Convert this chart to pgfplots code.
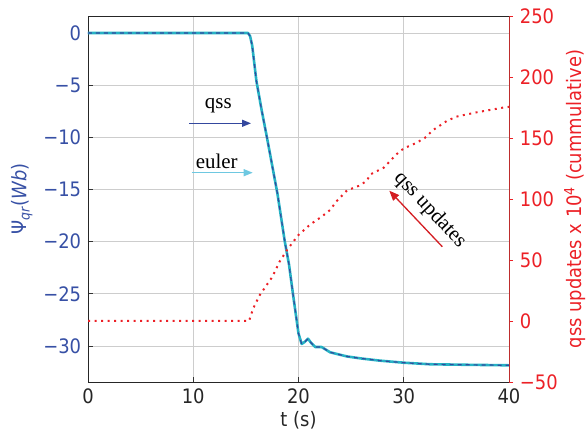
\documentclass[border=0pt]{standalone}
\usepackage{fontspec}
\setmainfont{DejaVu Sans}[FakeStretch=0.9]
\newfontfamily\tnr{Liberation Serif}
\usepackage{pgfplots}
\pgfplotsset{compat=1.18}
\usetikzlibrary{arrows.meta}
\definecolor{qssblue}{RGB}{52,72,158}
\definecolor{eulercyan}{RGB}{38,178,196}
\definecolor{arrcyan}{RGB}{110,200,225}
\definecolor{ured}{RGB}{236,32,38}
\definecolor{axred}{RGB}{190,45,45}
\definecolor{lblue}{RGB}{55,80,165}
\definecolor{gridgray}{RGB}{205,205,205}
\begin{document}
\fontsize{20}{24}\selectfont
\begin{tikzpicture}
\begin{axis}[
  at={(0,0)}, anchor=south west,
  scale only axis, width=421bp, height=366bp,
  xmin=0, xmax=40, ymin=-33.45, ymax=1.63,
  xtick={0,10,20,30,40},
  xticklabels={0,10,20,30,40},
  ytick={-30,-25,-20,-15,-10,-5,0},
  yticklabels={−30,−25,−20,−15,−10,−5,0},
  grid=major, grid style={gridgray, line width=0.8bp},
  axis line style={black!85, line width=0.9bp},
  tick align=inside, major tick length=5bp,
  xtick pos=bottom, ytick pos=left,
  tick style={black!80, line width=0.8bp},
  tick label style={font=\fontsize{20}{24}\selectfont},
  yticklabel style={text=lblue},
  xticklabel style={text=black!85},
  xlabel={t (s)},
  xlabel style={at={(axis description cs:0.5,-0.104)}, anchor=center, text=black!85, font=\fontsize{20}{24}\selectfont},
  ylabel={Ψ\textsubscript{\textit{qr}}(\textit{Wb})},
  ylabel style={at={(axis description cs:-0.157,0.5)}, anchor=center, rotate=0, text=lblue, font=\fontsize{20}{24}\selectfont},
]
\addplot[eulercyan, line width=2.6bp, line join=round] coordinates {
(0,0) (15.2,0) (15.4,-0.3) (15.6,-1.2) (16,-4.6) (16.5,-7.4) (17,-10) (17.5,-12.7) (18,-15.4) (18.7,-20) (19.1,-22.2) (19.5,-25.2) (20,-28.8) (20.3,-29.8) (20.6,-29.6) (20.9,-29.3) (21.2,-29.7) (21.6,-30.1) (22.2,-30.1) (23,-30.6) (24.6,-31.0) (26,-31.2) (27.7,-31.4) (30,-31.6) (32.5,-31.75) (36,-31.8) (40,-31.85)
};
\addplot[qssblue, line width=1.2bp, dash pattern=on 4bp off 4bp] coordinates {
(0,0) (15.2,0) (15.4,-0.3) (15.6,-1.2) (16,-4.6) (16.5,-7.4) (17,-10) (17.5,-12.7) (18,-15.4) (18.7,-20) (19.1,-22.2) (19.5,-25.2) (20,-28.8) (20.3,-29.8) (20.6,-29.6) (20.9,-29.3) (21.2,-29.7) (21.6,-30.1) (22.2,-30.1) (23,-30.6) (24.6,-31.0) (26,-31.2) (27.7,-31.4) (30,-31.6) (32.5,-31.75) (36,-31.8) (40,-31.85)
};
\end{axis}
\begin{axis}[
  at={(0,0)}, anchor=south west,
  scale only axis, width=421bp, height=366bp,
  xmin=0, xmax=40, ymin=-50, ymax=250,
  axis y line*=right, axis x line=none,
  ytick={-50,0,50,100,150,200,250},
  yticklabels={−50,0,50,100,150,200,250},
  y axis line style={axred, line width=1bp},
  tick align=outside, major tick length=4bp,
  ytick style={ured, line width=0.8bp},
  tick label style={font=\fontsize{20}{24}\selectfont},
  yticklabel style={text=ured},
  ylabel={qss updates x 10\textsuperscript{4} (cummulative)},
  ylabel style={at={(axis description cs:1.157,0.5)}, anchor=center, rotate=0, text=ured, font=\fontsize{20}{24}\selectfont},
]
\addplot[ured, line width=2bp, dash pattern=on 2bp off 4.5bp] coordinates {
(0,0) (15.3,0) (15.7,10.4) (16.3,21) (17.5,36) (18.2,48.6) (18.9,58) (19.5,65) (20,70.5) (21.1,79) (22.2,85.5) (23,91) (23.6,98) (24.6,107) (25.8,111) (26.5,115) (26.8,120) (28.1,125.7) (29.3,136.6) (30,141.5) (31.1,145.6) (32,150) (32.8,156.6) (34.1,164) (35,167.5) (36.9,171) (39.5,175) (40,175.5)
};
\end{axis}
% annotations
\draw[qssblue, line width=1.3bp, -{Triangle[length=9bp,width=7bp]}] (101.3bp,258.7bp) -- (163bp,258.7bp);
\node[font=\tnr\fontsize{21}{24}\selectfont] at (130.3bp,276bp) {qss};
\draw[arrcyan, line width=1.3bp, -{Triangle[length=9bp,width=7bp]}] (103.7bp,209.3bp) -- (164.7bp,209.3bp);
\node[font=\tnr\fontsize{21}{24}\selectfont] at (128.7bp,220.3bp) {euler};
\draw[ured!90!black, line width=1.3bp, -{Triangle[length=10bp,width=8bp]}] (354.3bp,135.3bp) -- (301.3bp,191.3bp);
\node[font=\tnr\fontsize{21}{24}\selectfont, rotate=-47, inner sep=0pt] at (342bp,172bp) {qss updates};
\pgfresetboundingbox
\path[use as bounding box] (-88bp,-53bp) rectangle (498bp,382bp);
\end{tikzpicture}
\end{document}
